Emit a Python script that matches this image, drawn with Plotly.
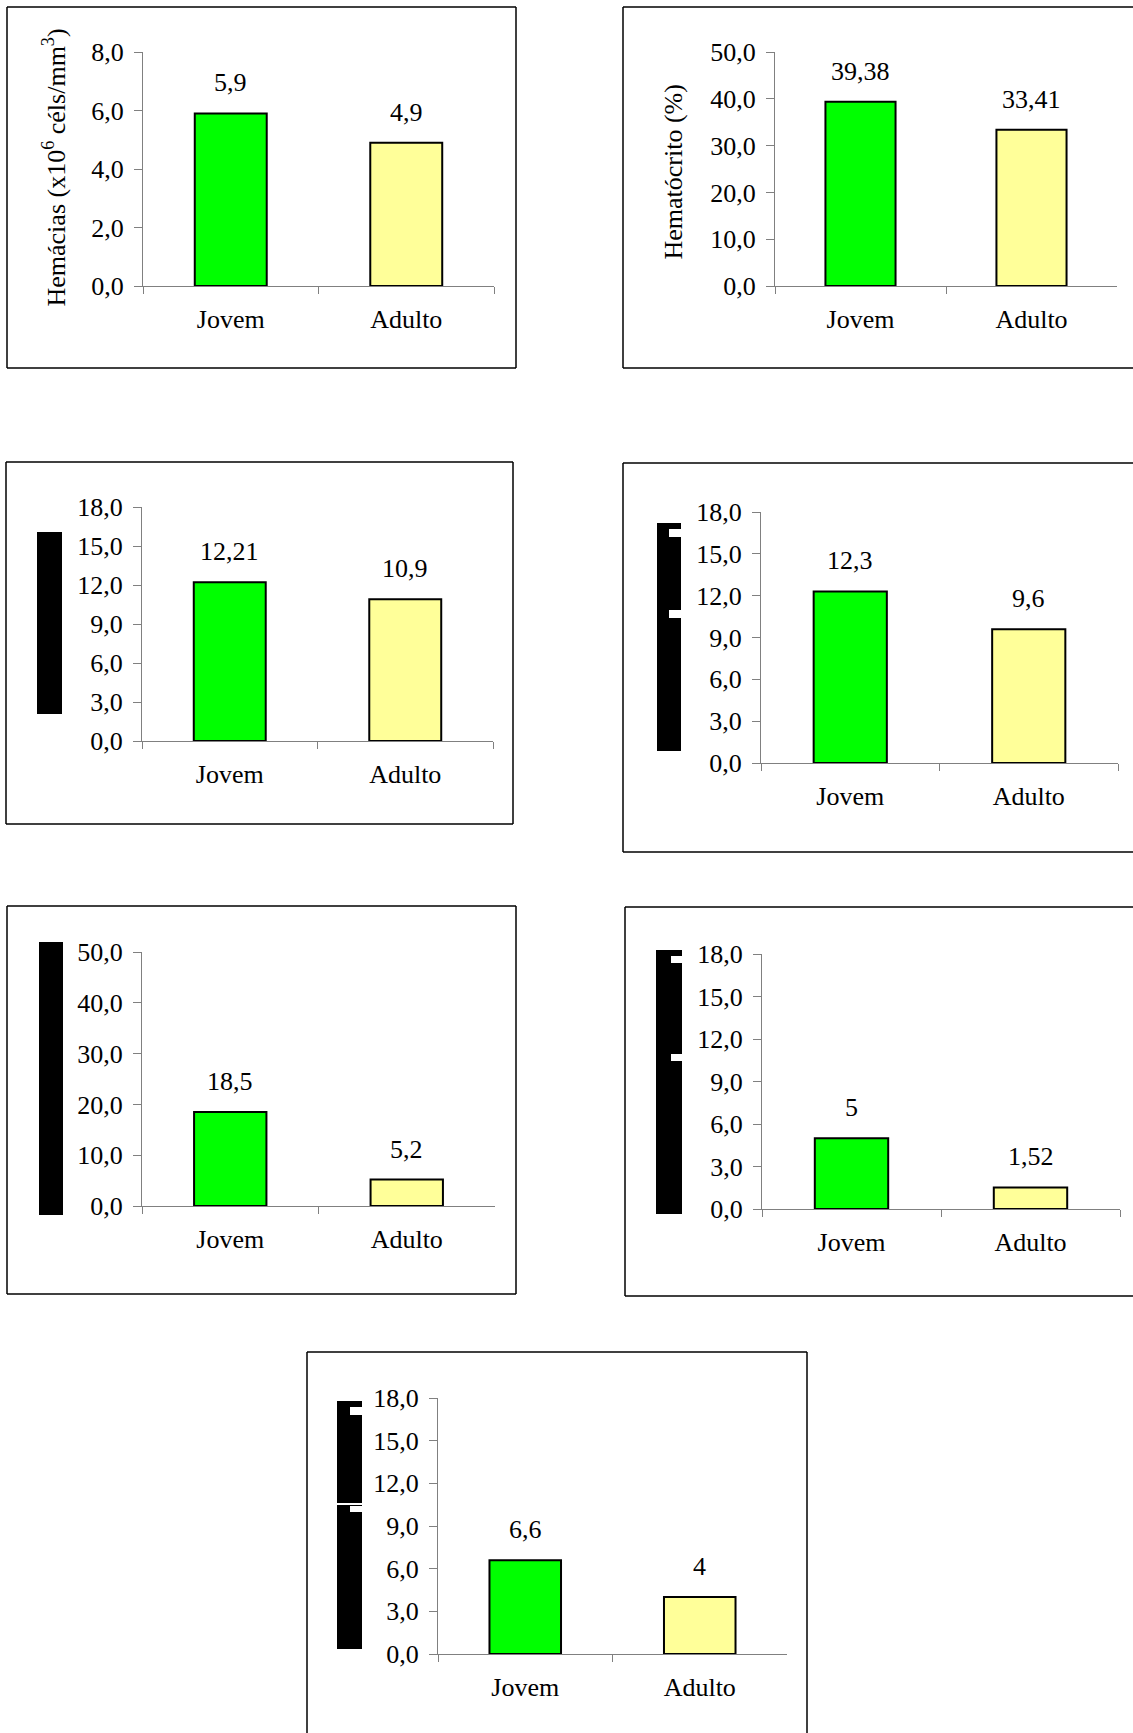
import plotly.graph_objects as go

W, H = 1133, 1733

# ---------------- data ----------------
categories = ["Jovem", "Adulto"]
hemacias = [5.9, 4.9]
hematocrito = [39.38, 33.41]
painel3 = [12.21, 10.9]
painel4 = [12.3, 9.6]
painel5 = [18.5, 5.2]
painel6 = [5, 1.52]
painel7 = [6.6, 4]
series = [hemacias, hematocrito, painel3, painel4, painel5, painel6, painel7]

y_max = [8, 50, 18, 18, 50, 18, 18]
y_dtick = [2, 10, 3, 3, 10, 3, 3]
y_titles = ["Hemácias (x10<sup>6</sup> céls/mm<sup>3</sup>)", "Hematócrito (%)"]

# ---------------- style / layout (pixels) ----------------
bar_colors = ["#00FF00", "#FFFF99"]
FONT = "Liberation Serif, Times New Roman, serif"
FS = 26
AXC = "#808080"

plot_px = [
    (143, 494, 52, 286),
    (775, 1117, 52, 286),
    (142, 493, 507, 741),
    (761, 1118, 512, 763),
    (142, 495, 952, 1206),
    (762, 1120, 954, 1209),
    (438, 787, 1398, 1654),
]
border_px = [
    (7, 7, 516, 368),
    (623, 7, None, 368),
    (6, 462, 513, 824),
    (623, 463, None, 852),
    (7, 906, 516, 1294),
    (625, 907, None, 1296),
    (307, 1352, 807, None),
]
ytitle_px = [(55, 167.5), (673, 172.5)]
black_px = [
    (37, 532, 62, 714),
    (657, 523, 681, 751),
    (39, 942, 63, 1215),
    (656, 950, 682, 1214),
    (337, 1401, 362, 1649),
]
white_notch_px = [
    (669, 529, 682, 537), (669, 610, 682, 618),
    (671, 956, 683, 963), (671, 1054, 683, 1061),
    (350, 1407, 363, 1415), (337, 1503, 363, 1505), (350, 1506, 363, 1512),
]


def px_x(v):
    return v / W


def px_y(v):
    return 1 - v / H


fig = go.Figure()
shapes = []
annotations = []


def seg(xa, ya, xb, yb):
    return dict(type="line", xref="paper", yref="paper",
                x0=px_x(xa), x1=px_x(xb), y0=px_y(ya), y1=px_y(yb),
                line=dict(color="black", width=1.5))


for i, vals in enumerate(series):
    n = i + 1
    xa = "x" if n == 1 else f"x{n}"
    ya = "y" if n == 1 else f"y{n}"
    fig.add_trace(go.Bar(
        x=categories, y=vals, xaxis=xa, yaxis=ya,
        marker=dict(color=bar_colors, line=dict(color="black", width=2)),
        showlegend=False, hoverinfo="x+y",
    ))
    x0, x1, yt, yb = plot_px[i]
    fig.layout[f"xaxis{'' if n == 1 else n}"] = dict(
        domain=[px_x(x0), px_x(x1)], anchor=ya, type="category",
        range=[-0.5, 1.5], showline=True, linecolor=AXC, linewidth=1,
        ticks="outside", tickson="boundaries", ticklen=7, tickcolor=AXC,
        showgrid=False, zeroline=False, ticklabelstandoff=10, automargin=False,
        tickfont=dict(family=FONT, size=FS, color="black"),
    )
    fig.layout[f"yaxis{'' if n == 1 else n}"] = dict(
        domain=[px_y(yb), px_y(yt)], anchor=xa, range=[0, y_max[i]],
        dtick=y_dtick[i], tick0=0, tickformat=".1f",
        showline=True, linecolor=AXC, linewidth=1,
        ticks="outside", ticklen=8, tickcolor=AXC, automargin=False,
        showgrid=False, zeroline=False, ticklabelstandoff=5,
        tickfont=dict(family=FONT, size=FS, color="black"),
    )
    for c, v in zip(categories, vals):
        annotations.append(dict(
            x=c, y=v, xref=xa, yref=ya, text=f"{v:g}".replace(".", ","),
            showarrow=False, yanchor="bottom", yshift=14,
            font=dict(family=FONT, size=FS, color="black"),
        ))
    bx0, by0, bx1, by1 = border_px[i]
    right = bx1 if bx1 is not None else W
    bottom = by1 if by1 is not None else H
    shapes.append(seg(bx0, by0, right, by0))
    shapes.append(seg(bx0, by0, bx0, bottom))
    if by1 is not None:
        shapes.append(seg(bx0, by1, right, by1))
    if bx1 is not None:
        shapes.append(seg(bx1, by0, bx1, bottom))

for t, (tx, ty) in zip(y_titles, ytitle_px):
    annotations.append(dict(
        x=px_x(tx), y=px_y(ty), xref="paper", yref="paper", text=t,
        textangle=-90, showarrow=False, xanchor="center", yanchor="middle",
        font=dict(family=FONT, size=FS, color="black"),
    ))

for (a, b, c, d) in black_px:
    shapes.append(dict(type="rect", xref="paper", yref="paper",
                       x0=px_x(a), x1=px_x(c), y0=px_y(d), y1=px_y(b),
                       fillcolor="black", line=dict(width=0)))
for (a, b, c, d) in white_notch_px:
    shapes.append(dict(type="rect", xref="paper", yref="paper",
                       x0=px_x(a), x1=px_x(c), y0=px_y(d), y1=px_y(b),
                       fillcolor="white", line=dict(width=0)))

fig.update_layout(
    width=W, height=H, margin=dict(l=0, r=0, t=0, b=0, pad=0), autosize=False,
    paper_bgcolor="white", plot_bgcolor="white",
    bargap=0.59, separators=",.",
    font=dict(family=FONT, size=FS, color="black"),
    shapes=shapes, annotations=annotations,
)

fig.write_html("out.html", config={"displayModeBar": False},
               post_script="document.body.style.margin='0';document.body.style.overflow='hidden';")
